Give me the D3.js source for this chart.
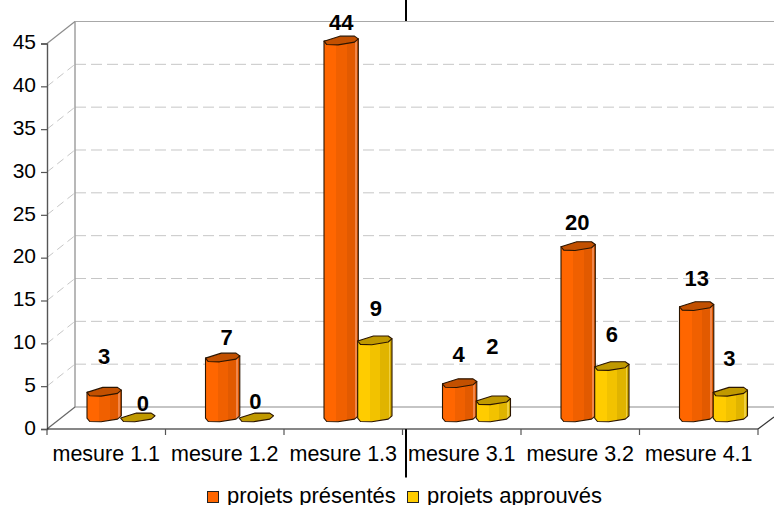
<!DOCTYPE html>
<html>
<head>
<meta charset="utf-8">
<style>
html,body{margin:0;padding:0;background:#fff;overflow:hidden}
svg{display:block}
text{font-family:"Liberation Sans",Arial,sans-serif;fill:#000}
</style>
<script src="https://cdn.jsdelivr.net/npm/d3@7/dist/d3.min.js"></script>
</head>
<body>
<svg id="chart" width="774" height="505"></svg>
<script>
const categories = ["mesure 1.1","mesure 1.2","mesure 1.3","mesure 3.1","mesure 3.2","mesure 4.1"];
const presentes = [3,7,44,4,20,13];
const approuves = [0,0,9,2,6,3];
const seriesNames = ["projets présentés","projets approuvés"];
const yTicks = [0,5,10,15,20,25,30,35,40,45];

// Label offsets from the top of each column: [dx, dy]
const labelOffsetsA = [[0,-35],[4,-20],[0,-18],[-1,-29],[-1,-24],[0,-28]];
const labelOffsetsB = [[5,-14],[-1,-16],[1,-32],[-1,-54],[0,-32],[-1,-33]];

const palette = [
  {id:"gradA", stops:["#ff6600","#f06000","#e25a00","#f2874a","#d95500"], top:"#c25000"},
  {id:"gradB", stops:["#ffcc00","#f2c200","#e0b400","#f0d040","#d0a800"], top:"#c09900"}
];

const svg = d3.select("#chart");
const frontLeft = 47, frontRight = 758, frontBase = 429;
const depthX = 28, depthY = 22;
const unit = 8.567;
const yMax = 45;

const yFront = d3.scaleLinear().domain([0,yMax]).range([frontBase, frontBase-unit*yMax]);
const yBack = v => yFront(v)-depthY;
const yColumn = d3.scaleLinear().domain([0,yMax]).range([417.5, 417.5-unit*yMax]);
const xBand = d3.scaleBand().domain(categories).range([frontLeft,frontRight]);
const colW = 34.3, colOffset = 40;

// Column gradients with the banded, faceted look
const defs = svg.append("defs");
palette.forEach(p=>{
  const g = defs.append("linearGradient").attr("id",p.id);
  const bands = [[0,.36,0],[.36,.66,1],[.66,.9,2],[.9,.95,3],[.95,1,4]];
  bands.forEach(b=>{
    g.append("stop").attr("offset",b[0]).attr("stop-color",p.stops[b[2]]);
    g.append("stop").attr("offset",b[1]).attr("stop-color",p.stops[b[2]]);
  });
});

// Walls and floor
const wall = svg.append("g").attr("fill","none");
const rightEnd = 774;

// Dashed gridlines across the back wall and down the side wall
yTicks.filter(t=>t>0&&t<yMax).forEach(t=>{
  wall.append("line").attr("x1",frontLeft+depthX).attr("x2",rightEnd)
    .attr("y1",yBack(t)).attr("y2",yBack(t))
    .attr("stroke","#c6c6c6").attr("stroke-width",1).attr("stroke-dasharray","11 5");
  wall.append("line").attr("x1",frontLeft).attr("x2",frontLeft+depthX)
    .attr("y1",yFront(t)).attr("y2",yBack(t))
    .attr("stroke","#c6c6c6").attr("stroke-width",1).attr("stroke-dasharray","8 5");
});
wall.append("line").attr("x1",frontLeft+depthX).attr("x2",frontLeft+depthX)
  .attr("y1",yBack(yMax)).attr("y2",yBack(0)).attr("stroke","#a0a0a0").attr("stroke-width",1.5);
wall.append("line").attr("x1",frontLeft+depthX).attr("x2",rightEnd)
  .attr("y1",yBack(0)).attr("y2",yBack(0)).attr("stroke","#8c8c8c").attr("stroke-width",1.2);
wall.append("line").attr("x1",frontLeft+depthX).attr("x2",rightEnd)
  .attr("y1",yBack(yMax)).attr("y2",yBack(yMax)).attr("stroke","#a8a8a8").attr("stroke-width",1.2);
wall.append("line").attr("x1",frontLeft).attr("x2",frontLeft+depthX)
  .attr("y1",yFront(yMax)).attr("y2",yBack(yMax)).attr("stroke","#8c8c8c").attr("stroke-width",1.2);
wall.append("line").attr("x1",frontLeft).attr("x2",frontLeft+depthX)
  .attr("y1",yFront(0)).attr("y2",yBack(0)).attr("stroke","#666").attr("stroke-width",1.2);
wall.append("line").attr("x1",frontRight).attr("x2",rightEnd)
  .attr("y1",yFront(0)).attr("y2",yFront(0)-12).attr("stroke","#333").attr("stroke-width",1.2);

// Vertical marker line crossing the chart, hidden behind the plot
[[0,21],[429,477.5]].forEach(seg=>{
  svg.append("line").attr("x1",406).attr("x2",406).attr("y1",seg[0]).attr("y2",seg[1])
    .attr("stroke","#000").attr("stroke-width",2);
});

// Columns
const capShape = [[0,.6],[.46,-4.4],[.89,-4.4],[1,-1.7],[.89,1.6],[.41,4.3],[.08,4]];
const footShape = [[1,-1.7],[.89,1.6],[.41,4.3],[.08,4],[0,.6]];
const capLine = d3.line().curve(d3.curveLinearClosed);

function drawSeries(values, shift, pal, offsets){
  const g = svg.append("g").attr("stroke-linejoin","round");
  values.forEach((v,i)=>{
    const x0 = xBand(categories[i]) + colOffset + shift;
    const yt = yColumn(v), yb = yColumn(0);
    const pt = (s,y)=>[x0+s[0]*colW, y+s[1]];
    if(v>0){
      const foot = footShape.map(s=>pt(s,yb));
      const d = "M"+pt([0,.6],yt).join(",")+"L"+foot[foot.length-1].join(",")
        +foot.slice(0,-1).reverse().map(p=>"L"+p.join(",")).join("")
        +"L"+pt([1,-1.7],yt).join(",")+"Z";
      g.append("path").attr("d",d).attr("fill","url(#"+pal.id+")")
        .attr("stroke","#2b1500").attr("stroke-width",1.1);
    }
    g.append("path").attr("d",capLine(capShape.map(s=>pt(s,yt))))
      .attr("fill",pal.top).attr("stroke","#2b1500").attr("stroke-width",1.1);
    g.append("text").attr("x",x0+colW/2+offsets[i][0]).attr("y",yt+offsets[i][1])
      .attr("dy","0.35em").attr("text-anchor","middle")
      .attr("font-size",22).attr("font-weight","bold").text(v);
  });
}
drawSeries(presentes,0,palette[0],labelOffsetsA);
drawSeries(approuves,33.7,palette[1],labelOffsetsB);

// Value axis on the front edge
const yAxis = d3.axisLeft(yFront).tickValues(yTicks).tickSize(6).tickPadding(5).tickFormat(d3.format("d"));
const gy = svg.append("g").attr("transform",`translate(${frontLeft},0)`).call(yAxis);
gy.select(".domain").attr("stroke","#555").attr("stroke-width",1.4);
gy.selectAll(".tick line").attr("stroke","#555").attr("stroke-width",1.2);
gy.selectAll(".tick text").attr("font-size",21).attr("font-family","Liberation Sans").attr("fill","#000").attr("y",-1.5);
gy.selectAll(".tick text").attr("x",-11);

// Category axis: ticks sit on the band edges, labels in the band centres
const xAxis = d3.axisBottom(xBand).tickSize(0).tickPadding(16.4);
const gx = svg.append("g").attr("transform",`translate(0,${frontBase})`).call(xAxis);
gx.select(".domain").remove();
gx.selectAll(".tick text").attr("font-size",21.5).attr("font-family","Liberation Sans").attr("fill","#000");
const edges = categories.map(c=>xBand(c)).concat([frontRight]);
svg.append("line").attr("x1",frontLeft).attr("x2",frontRight).attr("y1",frontBase).attr("y2",frontBase)
  .attr("stroke","#111").attr("stroke-width",1.2);
svg.selectAll("line.edge").data(edges).enter().append("line").attr("class","edge")
  .attr("x1",d=>d).attr("x2",d=>d).attr("y1",frontBase).attr("y2",frontBase+6)
  .attr("stroke","#555").attr("stroke-width",1.2);

// Legend
const legendPos = [[207,227],[407,427]];
seriesNames.forEach((name,i)=>{
  svg.append("rect").attr("x",legendPos[i][0]+.5).attr("y",491.5).attr("width",11).attr("height",11)
    .attr("fill",palette[i].stops[0]).attr("stroke","#222");
  svg.append("text").attr("x",legendPos[i][1]).attr("y",502.5).attr("font-size",22).text(name);
});
</script>
</body>
</html>
